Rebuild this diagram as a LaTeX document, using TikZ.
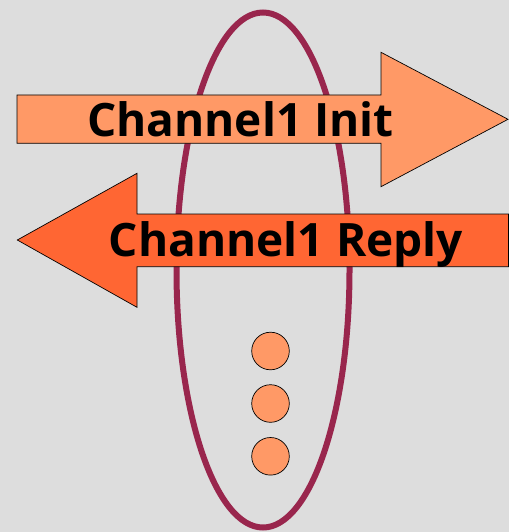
\documentclass[tikz,border=0pt]{standalone}
\usepackage{fontspec}
\setmainfont{Open Sans}
\definecolor{bg}{RGB}{221,221,221}
\definecolor{ringred}{RGB}{153,38,77}
\definecolor{lightorange}{RGB}{255,153,102}
\definecolor{darkorange}{RGB}{255,102,51}
\tikzset{
  ring/.style={draw=ringred, line width=6pt},
  arrowshape/.style={draw=black, line width=0.7pt, line join=miter},
  label/.style={font=\bfseries\fontsize{46}{55}\selectfont, inner sep=0pt, anchor=base},
  dot/.style={circle, draw=black, line width=0.7pt, fill=lightorange, minimum size=37.6pt, inner sep=0pt}
}
\begin{document}
\begin{tikzpicture}[x=1pt, y=-1pt]
  % canvas
  \fill[bg] (0,0) rectangle (509,532);
  \useasboundingbox (0,0) rectangle (509,532);
  % tall ring
  \draw[ring] (263,270) ellipse [x radius=86.5, y radius=257.5];
  % dots inside the ring
  \node[dot] (d1) at (270.5,351) {};
  \node[dot] (d2) at (270.5,403.5) {};
  \node[dot] (d3) at (270.5,456.3) {};
  % init arrow, pointing right
  \draw[arrowshape, fill=lightorange]
    (17,95) -- (381,95) -- (381,52.3) -- (508,119.3) -- (381,186.7)
    -- (381,143.3) -- (17,143.3) -- cycle;
  \node[label] (init) at (240.5,136) {Channel1 Init};
  % reply arrow, pointing left
  \draw[arrowshape, fill=darkorange]
    (17.3,240) -- (137,173.3) -- (137,214) -- (508.5,214) -- (508.5,266.7)
    -- (137,266.7) -- (137,307.3) -- cycle;
  \node[label] (reply) at (286,256.7) {Channel1 Reply};
\end{tikzpicture}
\end{document}
